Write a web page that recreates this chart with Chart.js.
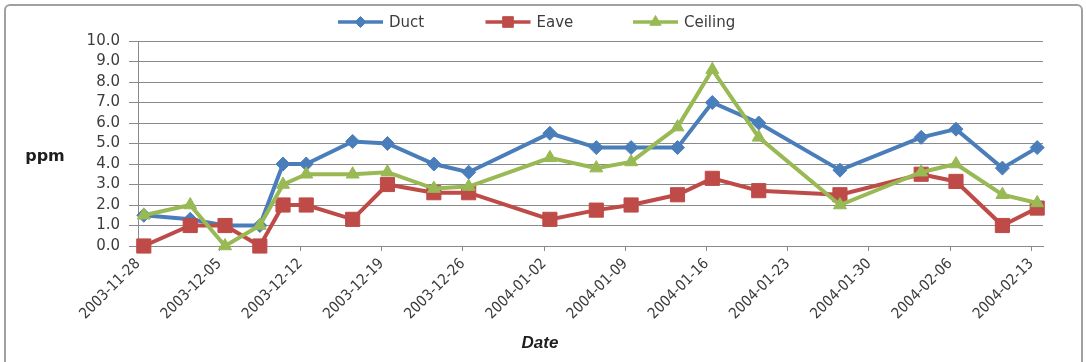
<!DOCTYPE html>
<html>
<head>
<meta charset="utf-8">
<title>Concentration by sampling location</title>
<script src="https://cdn.jsdelivr.net/npm/chart.js@4.4.1/dist/chart.umd.min.js"></script>
<style>
  html, body { margin: 0; padding: 0; background: #ffffff; }
  #wrap { position: relative; width: 1086px; height: 362px; overflow: hidden; }
  #wrap canvas { position: absolute; left: 0; top: 0; }
  #frame {
    position: absolute; left: 4px; top: 4px; width: 1079px; height: 380px;
    border: 2px solid #a0a0a0; border-radius: 6px; box-sizing: border-box;
    pointer-events: none;
  }
</style>
</head>
<body>
<div id="wrap">
  <canvas id="chart" width="1086" height="362"></canvas>
  <div id="frame"></div>
</div>
<script>
// Sampling dates and measured concentrations (ppm)
const sampleDates = [
  '2003-11-28', '2003-12-02', '2003-12-05', '2003-12-08', '2003-12-10', '2003-12-12',
  '2003-12-16', '2003-12-19', '2003-12-23', '2003-12-26', '2004-01-02', '2004-01-06',
  '2004-01-09', '2004-01-13', '2004-01-16', '2004-01-20', '2004-01-27', '2004-02-03',
  '2004-02-06', '2004-02-10', '2004-02-13'
];
const ductPpm    = [1.5, 1.3, 1.0, 1.0, 4.0, 4.0, 5.1, 5.0, 4.0, 3.6, 5.5, 4.8, 4.8, 4.8, 7.0, 6.0, 3.7, 5.3, 5.7, 3.8, 4.8];
const eavePpm    = [0.0, 1.0, 1.0, 0.0, 2.0, 2.0, 1.3, 3.0, 2.6, 2.6, 1.3, 1.75, 2.0, 2.5, 3.3, 2.7, 2.5, 3.5, 3.15, 1.0, 1.85];
const ceilingPpm = [1.5, 2.0, 0.0, 1.0, 3.0, 3.5, 3.5, 3.6, 2.8, 2.9, 4.3, 3.8, 4.1, 5.8, 8.6, 5.3, 2.0, 3.6, 4.0, 2.5, 2.1];

// Weekly date ticks along the x axis
const weekTickLabels = [
  '2003-11-28', '2003-12-05', '2003-12-12', '2003-12-19', '2003-12-26', '2004-01-02',
  '2004-01-09', '2004-01-16', '2004-01-23', '2004-01-30', '2004-02-06', '2004-02-13'
];
const ppmTicks = [0, 1, 2, 3, 4, 5, 6, 7, 8, 9, 10];

const seriesNames = ['Duct', 'Eave', 'Ceiling'];
const seriesColors = ['#4A7EBB', '#BE4B48', '#98B954'];
const seriesMarkers = ['rectRot', 'rect', 'triangle'];

// Dates become day numbers counted from the first weekly tick
function dayNumber(s) {
  const [y, m, d] = s.split('-').map(Number);
  return Date.UTC(y, m - 1, d) / 86400000;
}
const originDay = dayNumber(weekTickLabels[0]);
const tickDays = weekTickLabels.map(s => dayNumber(s) - originDay);
const axisEndDay = tickDays[tickDays.length - 1] + 1;
// each sample sits in the middle of its day slot
const sampleX = sampleDates.map(s => dayNumber(s) - originDay + 0.5);

function toPoints(values) {
  return values.map((v, i) => ({ x: sampleX[i], y: v }));
}

const LABEL_FONT = "'DejaVu Sans', Verdana, sans-serif";
const DATE_FONT = "'Liberation Sans Narrow', 'DejaVu Sans Condensed', 'Liberation Sans', sans-serif";
const GRID_GRAY = '#8a8a8a';
const TEXT_GRAY = '#3c3c3c';

function markerPath(ctx, style, x, y, r) {
  ctx.beginPath();
  if (style === 'rectRot') {
    ctx.moveTo(x, y - r); ctx.lineTo(x + r, y); ctx.lineTo(x, y + r); ctx.lineTo(x - r, y);
  } else if (style === 'rect') {
    const h = r * Math.SQRT1_2;
    ctx.rect(x - h, y - h, 2 * h, 2 * h);
  } else {
    const h = r * 0.866;
    ctx.moveTo(x, y - r); ctx.lineTo(x + h, y + r / 2); ctx.lineTo(x - h, y + r / 2);
  }
  ctx.closePath();
}

// Legend row and horizontal axis captions
const captionsPlugin = {
  id: 'captions',
  afterDraw(chart) {
    const ctx = chart.ctx;
    ctx.save();
    const legendY = 22, lineLen = 45, firstX = 338, step = 147.5;
    const legendRadius = { rectRot: 5.5, rect: 7.5, triangle: 6.5 };
    chart.data.datasets.forEach((ds, i) => {
      const x0 = firstX + i * step;
      ctx.strokeStyle = ds.borderColor;
      ctx.lineWidth = 3.5;
      ctx.beginPath();
      ctx.moveTo(x0, legendY);
      ctx.lineTo(x0 + lineLen, legendY);
      ctx.stroke();
      ctx.fillStyle = ds.backgroundColor;
      ctx.lineWidth = 1;
      markerPath(ctx, ds.pointStyle, x0 + lineLen / 2, legendY, legendRadius[ds.pointStyle]);
      ctx.fill();
      ctx.stroke();
      ctx.fillStyle = TEXT_GRAY;
      ctx.font = '15px ' + LABEL_FONT;
      ctx.textAlign = 'left';
      ctx.textBaseline = 'middle';
      ctx.fillText(ds.label, x0 + lineLen + 6, legendY + 1);
    });

    ctx.fillStyle = '#1e1e1e';
    ctx.textAlign = 'center';
    ctx.textBaseline = 'middle';
    ctx.font = 'bold 16px ' + LABEL_FONT;
    ctx.fillText('ppm', 45, 157);
    ctx.font = "italic bold 17px 'Liberation Sans', Arial, sans-serif";
    ctx.fillText('Date', 540, 343);
    ctx.restore();
  }
};

const values = [ductPpm, eavePpm, ceilingPpm];
const radii = [7, 10, 7.5];
const stackOrder = [2, 1, 0];

new Chart(document.getElementById('chart'), {
  type: 'line',
  data: {
    datasets: seriesNames.map((name, i) => ({
      label: name,
      data: toPoints(values[i]),
      borderColor: seriesColors[i],
      backgroundColor: seriesColors[i],
      pointBackgroundColor: seriesColors[i],
      pointBorderColor: seriesColors[i],
      borderWidth: 4,
      pointStyle: seriesMarkers[i],
      pointRadius: radii[i],
      pointBorderWidth: 1,
      tension: 0,
      fill: false,
      clip: false,
      order: stackOrder[i]
    }))
  },
  options: {
    responsive: false,
    animation: false,
    events: [],
    layout: { padding: { top: 41, right: 43, bottom: 0, left: 0 } },
    plugins: {
      legend: { display: false },
      tooltip: { enabled: false },
      title: { display: false }
    },
    scales: {
      x: {
        type: 'linear',
        min: 0,
        max: axisEndDay,
        afterBuildTicks(scale) {
          scale.ticks = tickDays.map(v => ({ value: v }));
        },
        afterFit(scale) { scale.height = 116; },
        ticks: {
          autoSkip: false,
          minRotation: 45,
          maxRotation: 45,
          padding: 4,
          color: TEXT_GRAY,
          font: { family: DATE_FONT, size: 15 },
          callback(value) {
            const k = tickDays.indexOf(value);
            return k >= 0 ? weekTickLabels[k] : '';
          }
        },
        grid: { display: true, drawOnChartArea: false, drawTicks: true, tickLength: 5, color: GRID_GRAY, lineWidth: 1 },
        border: { display: true, color: GRID_GRAY, width: 1 }
      },
      y: {
        min: ppmTicks[0],
        max: ppmTicks[ppmTicks.length - 1],
        afterBuildTicks(scale) {
          scale.ticks = ppmTicks.map(v => ({ value: v }));
        },
        afterFit(scale) { scale.width = 138; },
        ticks: {
          autoSkip: false,
          padding: 9,
          color: TEXT_GRAY,
          font: { family: LABEL_FONT, size: 15 },
          callback(value) { return Number(value).toFixed(1); }
        },
        grid: { color: GRID_GRAY, lineWidth: 1, drawTicks: true, tickLength: 9 },
        border: { display: true, color: GRID_GRAY, width: 1 }
      }
    }
  },
  plugins: [captionsPlugin]
});
</script>
</body>
</html>
